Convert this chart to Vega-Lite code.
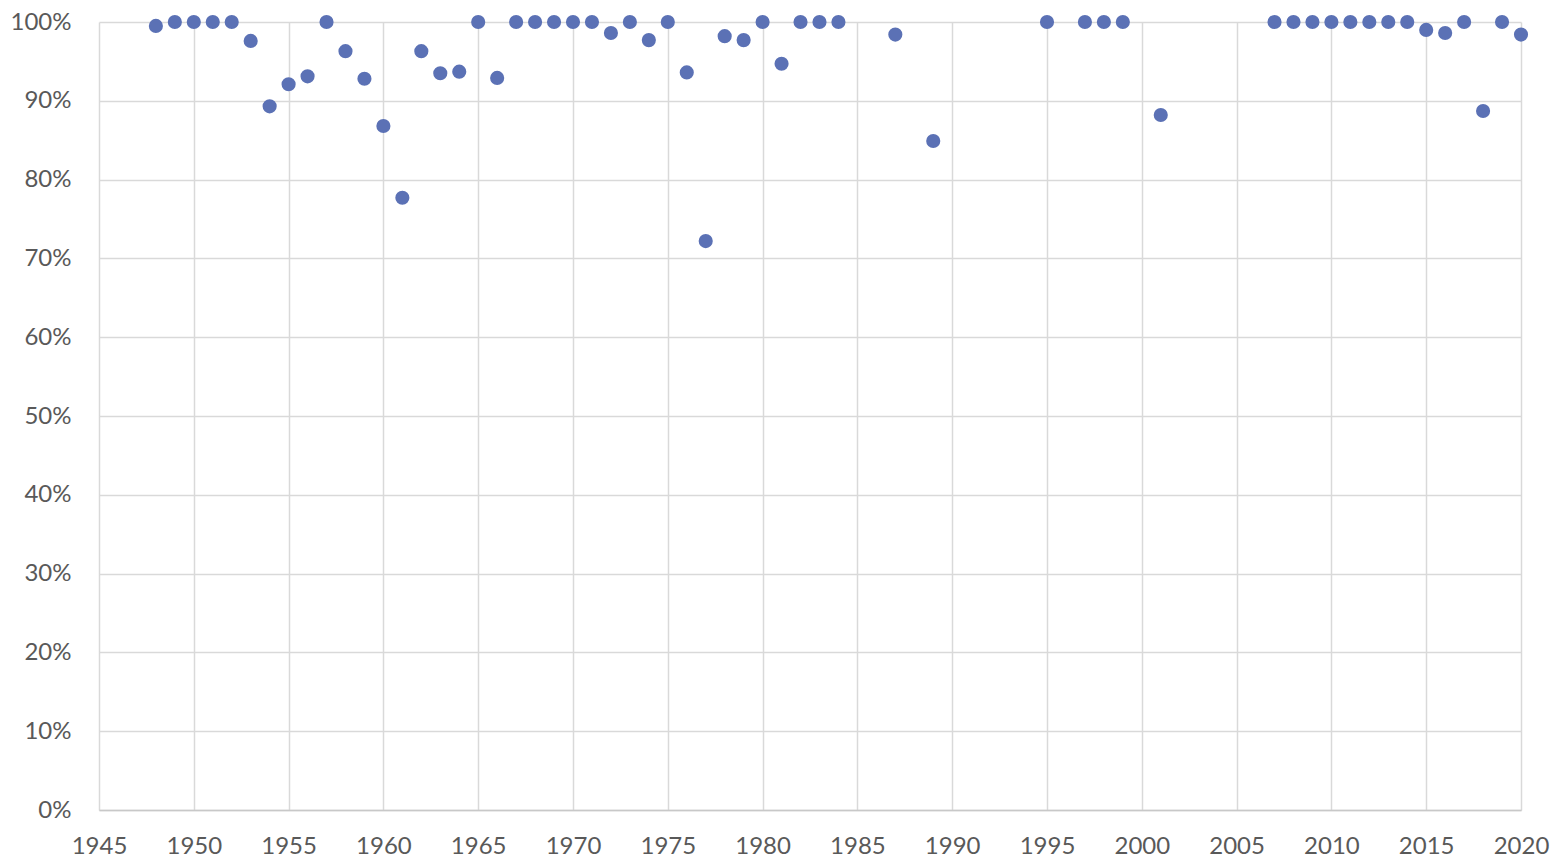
{
  "$schema": "https://vega.github.io/schema/vega-lite/v6.json",
  "width": 1422,
  "height": 788,
  "autosize": {"type": "none"},
  "padding": {"left": 99, "top": 22, "right": 40, "bottom": 49},
  "background": "white",
  "config": {
    "view": {"stroke": null},
    "font": "Lato"
  },
  "data": {
    "values": [
      {"year": 1948, "share": 0.995},
      {"year": 1949, "share": 1.0},
      {"year": 1950, "share": 1.0},
      {"year": 1951, "share": 1.0},
      {"year": 1952, "share": 1.0},
      {"year": 1953, "share": 0.976},
      {"year": 1954, "share": 0.893},
      {"year": 1955, "share": 0.921},
      {"year": 1956, "share": 0.931},
      {"year": 1957, "share": 1.0},
      {"year": 1958, "share": 0.963},
      {"year": 1959, "share": 0.928},
      {"year": 1960, "share": 0.868},
      {"year": 1961, "share": 0.777},
      {"year": 1962, "share": 0.963},
      {"year": 1963, "share": 0.935},
      {"year": 1964, "share": 0.937},
      {"year": 1965, "share": 1.0},
      {"year": 1966, "share": 0.929},
      {"year": 1967, "share": 1.0},
      {"year": 1968, "share": 1.0},
      {"year": 1969, "share": 1.0},
      {"year": 1970, "share": 1.0},
      {"year": 1971, "share": 1.0},
      {"year": 1972, "share": 0.986},
      {"year": 1973, "share": 1.0},
      {"year": 1974, "share": 0.977},
      {"year": 1975, "share": 1.0},
      {"year": 1976, "share": 0.936},
      {"year": 1977, "share": 0.722},
      {"year": 1978, "share": 0.982},
      {"year": 1979, "share": 0.977},
      {"year": 1980, "share": 1.0},
      {"year": 1981, "share": 0.947},
      {"year": 1982, "share": 1.0},
      {"year": 1983, "share": 1.0},
      {"year": 1984, "share": 1.0},
      {"year": 1987, "share": 0.984},
      {"year": 1989, "share": 0.849},
      {"year": 1995, "share": 1.0},
      {"year": 1997, "share": 1.0},
      {"year": 1998, "share": 1.0},
      {"year": 1999, "share": 1.0},
      {"year": 2001, "share": 0.882},
      {"year": 2007, "share": 1.0},
      {"year": 2008, "share": 1.0},
      {"year": 2009, "share": 1.0},
      {"year": 2010, "share": 1.0},
      {"year": 2011, "share": 1.0},
      {"year": 2012, "share": 1.0},
      {"year": 2013, "share": 1.0},
      {"year": 2014, "share": 1.0},
      {"year": 2015, "share": 0.99},
      {"year": 2016, "share": 0.986},
      {"year": 2017, "share": 1.0},
      {"year": 2018, "share": 0.887},
      {"year": 2019, "share": 1.0},
      {"year": 2020, "share": 0.984}
    ]
  },
  "mark": {"type": "point", "filled": true, "opacity": 1, "size": 200, "shape": "circle", "color": "#5b71b5", "clip": false},
  "encoding": {
    "x": {
      "field": "year",
      "type": "quantitative",
      "scale": {"domain": [1945, 2020], "nice": false, "zero": false},
      "axis": {
        "title": null,
        "values": [1945, 1950, 1955, 1960, 1965, 1970, 1975, 1980, 1985, 1990, 1995, 2000, 2005, 2010, 2015, 2020],
        "format": "d",
        "grid": true,
        "gridColor": "#d9d9d9",
        "gridWidth": 1.5,
        "domain": true,
        "domainColor": "#c8c8c8",
        "domainWidth": 1.5,
        "ticks": false,
        "labelPadding": 24,
        "labelFontSize": 24,
        "labelColor": "#595959",
        "labelFlush": false,
        "labelOverlap": false
      }
    },
    "y": {
      "field": "share",
      "type": "quantitative",
      "scale": {"domain": [0, 1], "nice": false},
      "axis": {
        "title": null,
        "values": [0, 0.1, 0.2, 0.3, 0.4, 0.5, 0.6, 0.7, 0.8, 0.9, 1.0],
        "format": ".0%",
        "grid": true,
        "gridColor": "#d9d9d9",
        "gridWidth": 1.5,
        "domain": false,
        "ticks": false,
        "labelPadding": 28,
        "labelFontSize": 24,
        "labelColor": "#595959",
        "labelFlush": false,
        "labelOverlap": false
      }
    }
  }
}
